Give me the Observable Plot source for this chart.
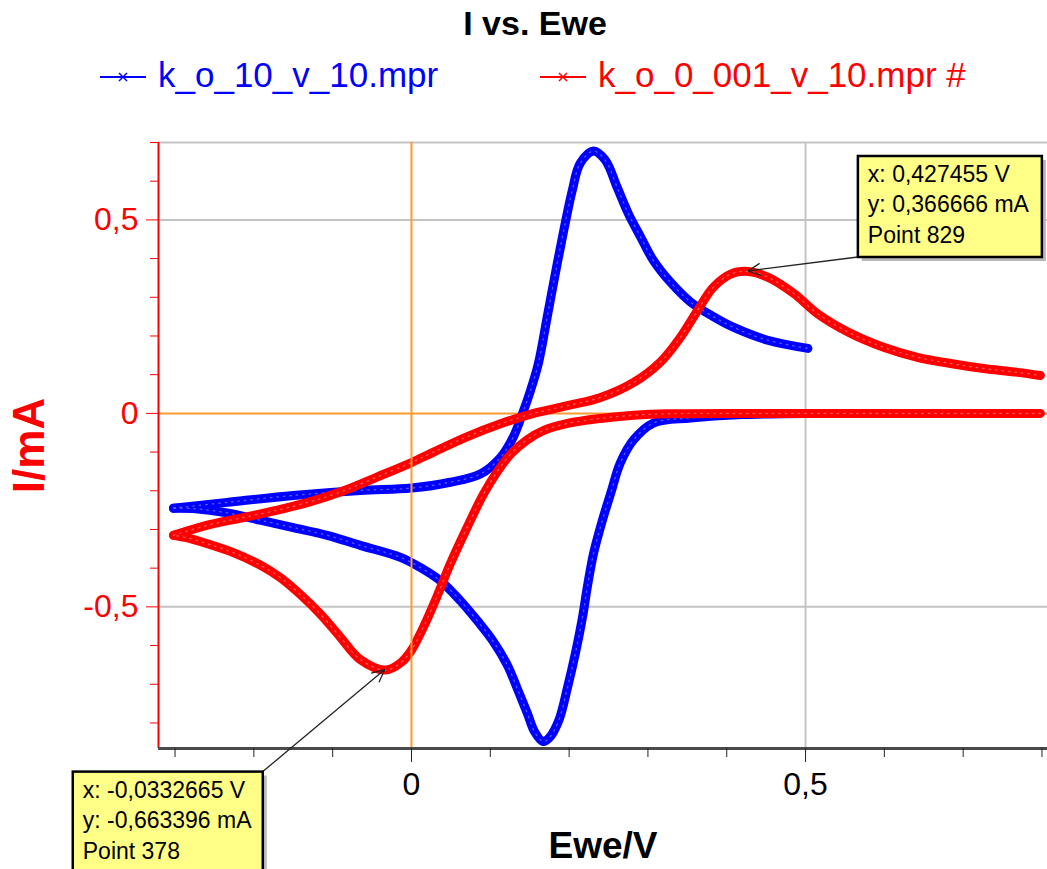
<!DOCTYPE html>
<html>
<head>
<meta charset="utf-8">
<script src="https://cdn.jsdelivr.net/npm/d3@7"></script>
<script src="https://cdn.jsdelivr.net/npm/@observablehq/plot@0.6"></script>
<style>
  body { margin: 0; background: #fff; font-family: "Liberation Sans", Arial, sans-serif; }
  #head { position: relative; width: 1047px; height: 110px; }
  .title { position: absolute; top: 6px; left: 535px; transform: translateX(-50%);
           font-weight: bold; font-size: 34px; line-height: 34px; white-space: nowrap; color: #000; }
  .leg-text { position: absolute; top: 57px; font-size: 35px; line-height: 35px; white-space: nowrap; }
  .leg-swatch { position: absolute; top: 67px; }
  #chart svg { display: block; }
</style>
</head>
<body>
<div id="head"></div>
<div id="chart"></div>
<script>
// Cyclic voltammograms: current I (mA) against working electrode potential Ewe (V)
const seriesNames = ["k_o_10_v_10.mpr", "k_o_0_001_v_10.mpr #"];
const seriesColors = ["#0000ff", "#ff0000"];

// k_o = 10, anodic sweep
const blueFwdE = [-0.302, -0.234, -0.150, -0.065, 0.000, 0.049, 0.088, 0.113, 0.129, 0.141, 0.151, 0.161,
  0.173, 0.185, 0.195, 0.204, 0.214, 0.231, 0.246, 0.261, 0.275, 0.291, 0.307, 0.329, 0.354, 0.383,
  0.409, 0.452, 0.503];
const blueFwdI = [-0.245, -0.230, -0.212, -0.199, -0.193, -0.178, -0.156, -0.114, -0.062, 0.000, 0.059, 0.129,
  0.258, 0.388, 0.491, 0.576, 0.646, 0.678, 0.654, 0.584, 0.517, 0.455, 0.395, 0.338, 0.288, 0.250,
  0.222, 0.189, 0.168];
// k_o = 10, cathodic sweep
const blueRevE = [0.500, 0.420, 0.354, 0.307, 0.282, 0.265, 0.253, 0.242, 0.231, 0.223, 0.217, 0.208,
  0.198, 0.187, 0.175, 0.167, 0.156, 0.147, 0.134, 0.122, 0.104, 0.084, 0.062, 0.037, 0.011, -0.014,
  -0.065, -0.107, -0.150, -0.192, -0.234, -0.277, -0.302];
const blueRevI = [0.000, -0.003, -0.012, -0.025, -0.068, -0.128, -0.205, -0.278, -0.362, -0.450, -0.527, -0.620,
  -0.708, -0.793, -0.838, -0.848, -0.822, -0.775, -0.710, -0.652, -0.590, -0.537, -0.484, -0.433, -0.398, -0.372,
  -0.341, -0.315, -0.295, -0.276, -0.257, -0.246, -0.245];
// k_o = 0.001, anodic sweep
const redFwdE = [-0.302, -0.255, -0.213, -0.170, -0.128, -0.086, -0.043, 0.000, 0.028, 0.071, 0.113, 0.155,
  0.198, 0.240, 0.282, 0.316, 0.341, 0.363, 0.383, 0.405, 0.427455, 0.452, 0.485, 0.515, 0.557, 0.599,
  0.642, 0.684, 0.726, 0.769, 0.798];
const redFwdI = [-0.315, -0.287, -0.269, -0.250, -0.228, -0.200, -0.164, -0.127, -0.100, -0.060, -0.027, 0.000,
  0.020, 0.041, 0.080, 0.133, 0.196, 0.266, 0.326, 0.360, 0.366666, 0.352, 0.310, 0.258, 0.207, 0.171,
  0.145, 0.129, 0.116, 0.106, 0.098];
// k_o = 0.001, cathodic sweep
const redRevE = [0.798, 0.600, 0.450, 0.325, 0.282, 0.240, 0.198, 0.168, 0.147, 0.126, 0.109, 0.091,
  0.071, 0.049, 0.033, 0.015, -0.001, -0.014, -0.0332665, -0.065, -0.090, -0.115, -0.141, -0.166, -0.192,
  -0.226, -0.259, -0.284, -0.302];
const redRevI = [0.000, 0.000, 0.000, -0.001, -0.005, -0.013, -0.026, -0.044, -0.068, -0.105, -0.150, -0.210,
  -0.293, -0.390, -0.470, -0.553, -0.615, -0.645, -0.663396, -0.636, -0.579, -0.520, -0.468, -0.425, -0.392,
  -0.360, -0.337, -0.322, -0.315];

// Cursor read-outs
const cursorE = [0.427455, -0.0332665];
const cursorI = [0.366666, -0.663396];
const cursorPoint = [829, 378];

// Axis ticks
const xDomain = [-0.321, 0.807];
const yDomain = [-0.866, 0.7];
const xMinorTicks = [-0.3, -0.2, -0.1, 0.1, 0.2, 0.3, 0.4, 0.6, 0.7, 0.8];
const xMajorTicks = [0, 0.5];
const yMinorTicks = [-0.8, -0.7, -0.6, -0.4, -0.3, -0.2, -0.1, 0.1, 0.2, 0.3, 0.4, 0.6, 0.7];
const yMajorTicks = [-0.5, 0, 0.5];
const gridY = [0.7, 0.5, -0.5];
const gridX = [0.5];

const comma = d => String(d).replace(".", ",");

function rows(E, I, branch) { return E.map((e, k) => ({E: e, I: I[k], branch})); }
const blueData = [...rows(blueFwdE, blueFwdI, "fwd"), ...rows(blueRevE, blueRevI, "rev")];
const redData = [...rows(redFwdE, redFwdI, "fwd"), ...rows(redRevE, redRevI, "rev")];

// Header: title and legend
const head = document.getElementById("head");
head.innerHTML = `<div class="title">I vs. Ewe</div>`;
const legX = [[98, 158], [538, 598]];
seriesNames.forEach((name, k) => {
  const sw = document.createElementNS("http://www.w3.org/2000/svg", "svg");
  sw.setAttribute("class", "leg-swatch");
  sw.setAttribute("width", 50); sw.setAttribute("height", 20);
  sw.style.left = legX[k][0] + "px";
  sw.innerHTML = `<line x1="2" x2="48" y1="10" y2="10" stroke="${seriesColors[k]}" stroke-width="2"/>
    <path d="M21,6L29,14M29,6L21,14" stroke="${seriesColors[k]}" stroke-width="1.5"/>`;
  head.appendChild(sw);
  const t = document.createElement("div");
  t.className = "leg-text";
  t.style.left = legX[k][1] + "px";
  t.style.color = seriesColors[k];
  t.textContent = name;
  head.appendChild(t);
});

// Yellow cursor box with a leader line back to the marked point
function callout(k, offX, offY, w, h) {
  return (index, scales) => {
    const px = scales.x(cursorE[k]), py = scales.y(cursorI[k]);
    const bx = px + offX, by = py + offY;
    const cx = offX > 0 ? bx : bx + w;
    const cy = offY > 0 ? by : by + h;
    const g = d3.create("svg:g");
    g.append("line").attr("x1", cx).attr("y1", cy).attr("x2", px).attr("y2", py)
      .attr("stroke", "#222").attr("stroke-width", 1.3);
    const ang = Math.atan2(cy - py, cx - px);
    [-0.45, 0.45].forEach(a => {
      g.append("line").attr("x1", px).attr("y1", py)
        .attr("x2", px + 14 * Math.cos(ang + a)).attr("y2", py + 14 * Math.sin(ang + a))
        .attr("stroke", "#222").attr("stroke-width", 1.3);
    });
    g.append("rect").attr("x", bx + 4).attr("y", by + 4).attr("width", w).attr("height", h)
      .attr("fill", "#b8b8b8");
    g.append("rect").attr("x", bx).attr("y", by).attr("width", w).attr("height", h)
      .attr("fill", "#ffff88").attr("stroke", "#000").attr("stroke-width", 2.5);
    const lines = [`x: ${comma(cursorE[k])} V`, `y: ${comma(cursorI[k])} mA`, `Point ${cursorPoint[k]}`];
    lines.forEach((s, j) => {
      g.append("text").attr("x", bx + 10).attr("y", by + 26 + j * 30.5)
        .attr("text-anchor", "start")
        .attr("font-size", 23).attr("fill", "#000").attr("font-family", "Liberation Sans, Arial, sans-serif")
        .text(s);
    });
    return g.node();
  };
}

// Speckled band made of many small cross markers
function band(data, color) {
  return [
    Plot.line(data, {x: "E", y: "I", z: "branch", stroke: color, strokeWidth: 9, curve: "catmull-rom"}),
    Plot.line(data, {x: "E", y: "I", z: "branch", stroke: "white", strokeWidth: 1.3, strokeOpacity: 0.35,
      strokeDasharray: "1.5 5", curve: "catmull-rom"})
  ];
}

const chart = Plot.plot({
  width: 1047,
  height: 759,
  marginLeft: 158,
  marginRight: 0,
  marginTop: 32,
  marginBottom: 121,
  style: {background: "white", fontFamily: "Liberation Sans, Arial, sans-serif", overflow: "visible"},
  x: {domain: xDomain, axis: null},
  y: {domain: yDomain, axis: null},
  marks: [
    Plot.ruleY(gridY, {stroke: "#c4c4c4", strokeWidth: 2}),
    Plot.ruleX(gridX, {stroke: "#c4c4c4", strokeWidth: 2}),
    Plot.ruleY([0], {stroke: "#ff9a2e", strokeWidth: 2}),
    ...band(blueData, seriesColors[0]),
    ...band(redData, seriesColors[1]),
    Plot.ruleX([0], {stroke: "#ff9a2e", strokeWidth: 2}),
    // y axis (red)
    Plot.ruleX([xDomain[0]], {stroke: "red", strokeWidth: 2}),
    Plot.axisY(yMinorTicks, {anchor: "left", tickSize: 8, tickFormat: () => "", stroke: "red", label: null}),
    Plot.axisY(yMajorTicks, {anchor: "left", tickSize: 12, tickPadding: 8, tickFormat: comma,
      stroke: "red", fill: "red", fontSize: 32, label: null}),
    Plot.text(["I/mA"], {frameAnchor: "left", dx: -129, rotate: -90, fill: "red", textAnchor: "middle",
      lineAnchor: "middle", fontSize: 44, fontWeight: "bold", text: d => d}),
    // x axis
    Plot.ruleY([yDomain[0]], {stroke: "#4a4a4a", strokeWidth: 3}),
    Plot.axisX(xMinorTicks, {anchor: "bottom", tickSize: 9, tickFormat: () => "", stroke: "#222", label: null}),
    Plot.axisX(xMajorTicks, {anchor: "bottom", tickSize: 14, tickPadding: 10, tickFormat: comma,
      stroke: "#222", fill: "#000", fontSize: 32, label: null}),
    Plot.text(["Ewe/V"], {frameAnchor: "bottom", dy: 98, fill: "#000", textAnchor: "middle",
      lineAnchor: "middle", fontSize: 37, fontWeight: "bold", text: d => d}),
    // cursor read-outs
    callout(0, 110, -115, 184, 101),
    callout(1, -312, 102, 190, 100)
  ]
});
document.getElementById("chart").appendChild(chart);
</script>
</body>
</html>
